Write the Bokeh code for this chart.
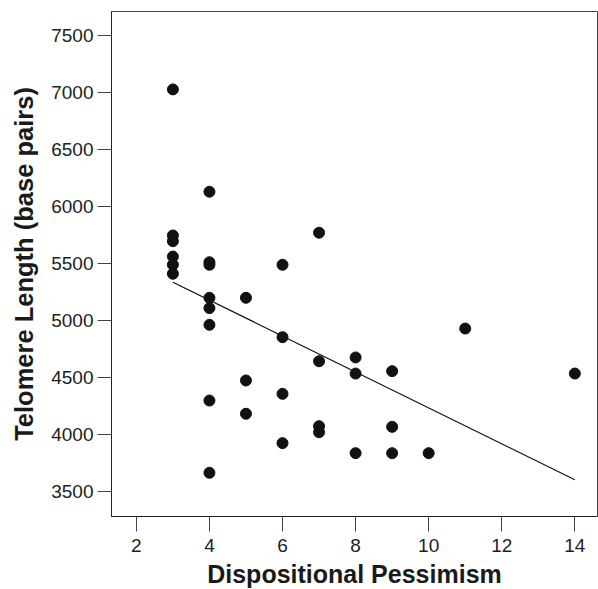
from bokeh.plotting import figure
from bokeh.models import Range1d, FixedTicker
from bokeh.embed import file_html
from bokeh.resources import INLINE

# Data
pessimism = [3, 3, 3, 3, 3, 3,
             4, 4, 4, 4, 4, 4, 4, 4,
             5, 5, 5,
             6, 6, 6, 6,
             7, 7, 7, 7,
             8, 8, 8,
             9, 9, 9,
             10, 11, 14]
telomere = [7027, 5745, 5695, 5560, 5488, 5409,
            6129, 5510, 5488, 5198, 5107, 4961, 4296, 3662,
            5198, 4472, 4180,
            5488, 4852, 4355, 3922,
            5769, 4641, 4071, 4018,
            4674, 4533, 3834,
            4554, 4065, 3834,
            3834, 4928, 4533]
fit_x = [3, 14]
fit_y = [5335, 3600]
x_ticks = [2, 4, 6, 8, 10, 12, 14]
y_ticks = [3500, 4000, 4500, 5000, 5500, 6000, 6500, 7000, 7500]

p = figure(frame_width=486, frame_height=505,
           x_range=Range1d(1.32, 14.62), y_range=Range1d(3278, 7711),
           output_backend="svg", toolbar_location=None,
           min_border_left=111, min_border_top=11, min_border_right=1, min_border_bottom=73)

p.line(fit_x, fit_y, line_color="#111111", line_width=1.2)
p.scatter(pessimism, telomere, size=11, fill_color="#111111", line_color="#111111")

p.xgrid.visible = False
p.ygrid.visible = False
p.outline_line_color = "#444444"
p.outline_line_width = 1

for ax in (p.xaxis[0], p.yaxis[0]):
    ax.axis_line_color = "#222222"
    ax.major_tick_line_color = "#444444"
    ax.major_tick_in = 0
    ax.minor_tick_line_color = None
    ax.major_label_text_font = "Liberation Sans"
    ax.major_label_text_font_size = "19px"
    ax.major_label_text_color = "#222222"
    ax.axis_label_text_font = "Liberation Sans"
    ax.axis_label_text_font_style = "bold"
    ax.axis_label_text_color = "#1a1a1a"

p.xaxis.axis_label_text_font_size = "25px"
p.yaxis.axis_label_text_font_size = "25.5px"
p.xaxis.major_tick_out = 15
p.yaxis.major_tick_out = 14
p.xaxis.ticker = FixedTicker(ticks=x_ticks)
p.yaxis.ticker = FixedTicker(ticks=y_ticks)
p.xaxis.axis_label = "Dispositional Pessimism"
p.yaxis.axis_label = "Telomere Length (base pairs)"
p.xaxis.major_label_standoff = 7
p.yaxis.major_label_standoff = 4
p.xaxis.axis_label_standoff = 5
p.yaxis.axis_label_standoff = 10

open("out.html", "w").write(file_html(p, INLINE))
